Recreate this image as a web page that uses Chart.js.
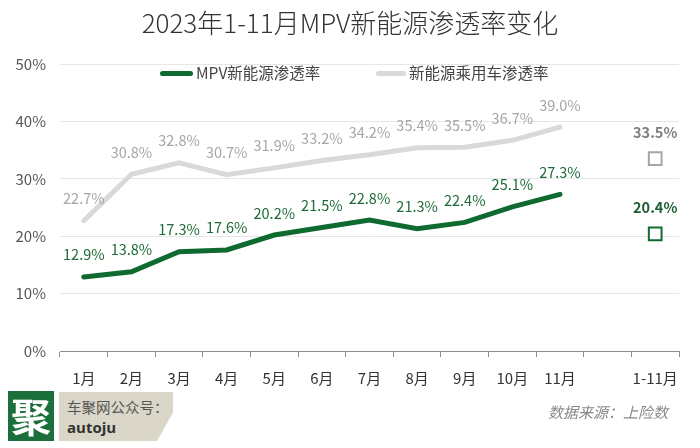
<!DOCTYPE html>
<html>
<head>
<meta charset="utf-8">
<script src="https://cdn.jsdelivr.net/npm/chart.js@4"></script>
<style>
  body { margin: 0; background: #fff; font-family: "Noto Sans CJK SC", "Noto Sans", sans-serif; }
  #wrap { position: relative; width: 700px; height: 448px; overflow: hidden; }
  #myChart { position: absolute; left: 0; top: 0; }
  .title { position: absolute; left: 0; width: 700px; top: 3px; text-align: center; font-size: 26px; font-weight: 300; color: #333; }
  .leg { position: absolute; top: 61px; font-size: 15.5px; color: #444; }
  .sw { position: absolute; height: 5px; border-radius: 2.5px; top: 71px; }
  .logo { position: absolute; left: 8px; top: 391px; width: 46px; height: 50px; background: #1b6f3b; color: #fff; font-size: 40px; line-height: 48px; text-align: center; font-weight: bold; }
  .tag { position: absolute; left: 59px; top: 392px; width: 114px; height: 49px; background: #dad6c8; clip-path: polygon(0 0, 100% 0, 100% 42%, 86% 100%, 0 100%); }
  .tag .a { position: absolute; left: 8px; top: 4px; font-size: 14.5px; color: #555; }
  .tag .b { position: absolute; left: 8px; top: 25px; font-size: 15px; font-weight: bold; color: #333; font-family: "Open Sans", sans-serif; }
  .src { position: absolute; left: 548px; top: 401px; font-size: 15px; font-style: italic; color: #888; }
</style>
</head>
<body>
<div id="wrap">
  <canvas id="myChart" width="700" height="448"></canvas>
  <div class="title">2023年1-11月MPV新能源渗透率变化</div>
  <div class="sw" style="left:160px;width:33px;background:#0f6a2f"></div>
  <div class="leg" style="left:196px">MPV新能源渗透率</div>
  <div class="sw" style="left:376px;width:30px;background:#d9d9d9"></div>
  <div class="leg" style="left:409px">新能源乘用车渗透率</div>
  <div class="logo">聚</div>
  <div class="tag"><div class="a">车聚网公众号：</div><div class="b">autoju</div></div>
  <div class="src">数据来源：上险数</div>
</div>
<script>
var labels = ['1月', '2月', '3月', '4月', '5月', '6月', '7月', '8月', '9月', '10月', '11月', '', '1-11月'];
var mpvRate = [12.9, 13.8, 17.3, 17.6, 20.2, 21.5, 22.8, 21.3, 22.4, 25.1, 27.3, null, null];
var nevRate = [22.7, 30.8, 32.8, 30.7, 31.9, 33.2, 34.2, 35.4, 35.5, 36.7, 39.0, null, null];
var mpvTotal = [null, null, null, null, null, null, null, null, null, null, null, null, 20.4];
var nevTotal = [null, null, null, null, null, null, null, null, null, null, null, null, 33.5];
var yTicks = [0, 10, 20, 30, 40, 50];

var green = '#0f6a2f';
var gray = '#d9d9d9';

// draw value labels above points
var pointLabels = {
    id: 'pointLabels',
    afterDatasetsDraw: function(chart) {
        var ctx = chart.ctx;
        chart.data.datasets.forEach(function(ds, i) {
            var meta = chart.getDatasetMeta(i);
            meta.data.forEach(function(pt, j) {
                var v = ds.data[j];
                if (v === null) return;
                ctx.save();
                ctx.font = (ds.boldLabel ? 'bold ' : '') + '14.5px "Noto Sans CJK SC", sans-serif';
                ctx.fillStyle = ds.labelColor;
                ctx.textAlign = 'center';
                ctx.textBaseline = 'middle';
                ctx.fillText(v.toFixed(1) + '%', pt.x, pt.y - (ds.boldLabel ? 26 : 22));
                ctx.restore();
            });
        });
    }
};

var ctx = document.getElementById('myChart').getContext('2d');
var chart = new Chart(ctx, {
    type: 'line',
    data: {
        labels: labels,
        datasets: [{
            data: nevRate,
            borderColor: gray,
            borderWidth: 5,
            borderCapStyle: 'round',
            pointRadius: 0,
            tension: 0,
            labelColor: '#a6a6a6'
        }, {
            data: mpvRate,
            borderColor: green,
            borderWidth: 5,
            borderCapStyle: 'round',
            pointRadius: 0,
            tension: 0,
            labelColor: '#1d6b38'
        }, {
            data: nevTotal,
            showLine: false,
            pointStyle: 'rect',
            pointRadius: 9,
            borderWidth: 2,
            borderColor: '#a6a6a6',
            backgroundColor: '#fff',
            labelColor: '#7f7f7f',
            boldLabel: true
        }, {
            data: mpvTotal,
            showLine: false,
            pointStyle: 'rect',
            pointRadius: 9,
            borderWidth: 2,
            borderColor: green,
            backgroundColor: '#fff',
            labelColor: '#1d5e34',
            boldLabel: true
        }]
    },
    options: {
        responsive: false,
        animation: false,
        layout: { padding: { left: 0, right: 21, top: 64, bottom: 0 } },
        plugins: {
            legend: { display: false },
            tooltip: { enabled: false }
        },
        scales: {
            x: {
                offset: true,
                grid: {
                    offset: true,
                    drawOnChartArea: false,
                    drawTicks: true,
                    tickLength: 6,
                    color: '#8c8c8c'
                },
                border: { color: '#8c8c8c', width: 1 },
                ticks: {
                    color: '#333',
                    padding: 12,
                    maxRotation: 0,
                    autoSkip: false,
                    font: { size: 15, family: '"Noto Sans CJK SC", sans-serif' }
                },
                afterFit: function(scale) { scale.height = 97; }
            },
            y: {
                min: 0,
                max: 50,
                afterBuildTicks: function(scale) {
                    scale.ticks = yTicks.map(function(v) { return { value: v }; });
                },
                grid: { color: '#e6e6e6', drawTicks: false },
                border: { display: false },
                ticks: {
                    color: '#555',
                    padding: 14,
                    font: { size: 15, family: '"Noto Sans CJK SC", sans-serif' },
                    callback: function(v) { return v + '%'; }
                },
                afterFit: function(scale) { scale.width = 60; }
            }
        }
    },
    plugins: [pointLabels]
});
</script>
</body>
</html>
